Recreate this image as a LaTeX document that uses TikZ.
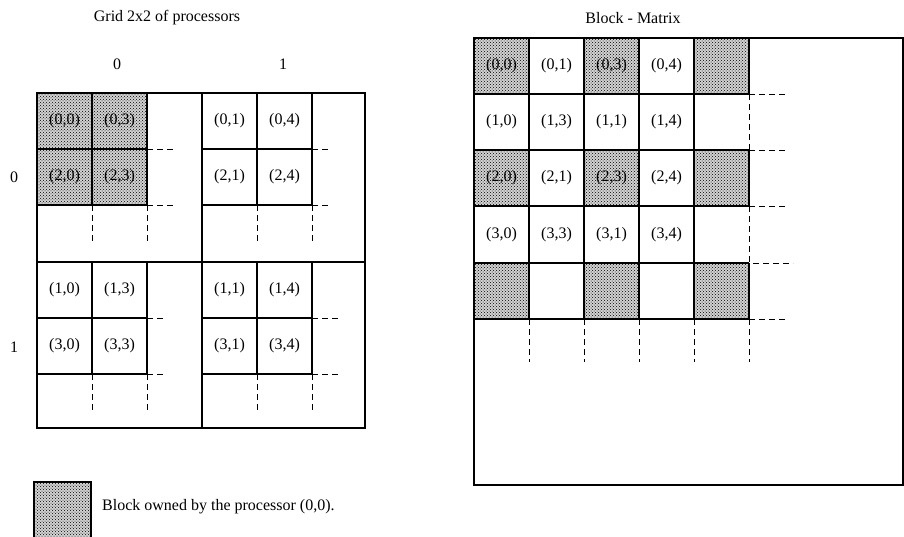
\documentclass[tikz,border=0pt]{standalone}
\usepackage{fontspec}
\setmainfont{Liberation Serif}
\usetikzlibrary{patterns}
\begin{document}
\begin{tikzpicture}[x=1pt,y=-1pt,
  shadedcell/.style={fill=gray!35, postaction={pattern=crosshatch dots, pattern color=black}},
  cellline/.style={line width=1.1pt},
  heavy/.style={line width=1.8pt},
  dashline/.style={line width=0.9pt, dash pattern=on 6pt off 4pt},
  lbl/.style={font=\fontsize{16}{19}\selectfont, inner sep=0pt},
]
\clip (0,0) rectangle (904,536);
\fill[white] (0,0) rectangle (904,536);

% ---------- titles ----------
\node[lbl] (t1) at (167,18) {Grid 2x2 of processors};
\node[lbl] (t2) at (633,18) {Block - Matrix};
\node[lbl] (c0) at (117,64) {0};
\node[lbl] (c1) at (283,64) {1};
\node[lbl] (r0) at (14,177) {0};
\node[lbl] (r1) at (14,347) {1};

% ---------- left grid ----------
\fill[shadedcell] (37,93) rectangle (147,205);
\foreach \ox/\oy/\ex in {37/93/28, 202/93/19, 37/262/17, 202/262/28} {
  \draw[cellline] (\ox+55,\oy) -- (\ox+55,\oy+112)
                  (\ox+110,\oy) -- (\ox+110,\oy+112)
                  (\ox,\oy+56) -- (\ox+110,\oy+56)
                  (\ox,\oy+112) -- (\ox+110,\oy+112);
  \draw[dashline] (\ox+55,\oy+112) -- (\ox+55,\oy+150)
                  (\ox+110,\oy+112) -- (\ox+110,\oy+150)
                  (\ox+110,\oy+56) -- (\ox+110+\ex,\oy+56)
                  (\ox+110,\oy+112) -- (\ox+110+\ex,\oy+112);
}
\draw[heavy] (37,93) rectangle (365,428);
\draw[heavy] (202,93) -- (202,428) (37,262) -- (365,262);

\node[lbl] (a00) at (64.5,121) {(0,0)};
\node[lbl] (a03) at (119.5,121) {(0,3)};
\node[lbl] (a20) at (64.5,177) {(2,0)};
\node[lbl] (a23) at (119.5,177) {(2,3)};
\node[lbl] (b01) at (229.5,121) {(0,1)};
\node[lbl] (b04) at (284.5,121) {(0,4)};
\node[lbl] (b21) at (229.5,177) {(2,1)};
\node[lbl] (b24) at (284.5,177) {(2,4)};
\node[lbl] (c10) at (64.5,290) {(1,0)};
\node[lbl] (c13) at (119.5,290) {(1,3)};
\node[lbl] (c30) at (64.5,346) {(3,0)};
\node[lbl] (c33) at (119.5,346) {(3,3)};
\node[lbl] (d11) at (229.5,290) {(1,1)};
\node[lbl] (d14) at (284.5,290) {(1,4)};
\node[lbl] (d31) at (229.5,346) {(3,1)};
\node[lbl] (d34) at (284.5,346) {(3,4)};

% ---------- right block matrix ----------
\foreach \i in {0,2,4} {
  \foreach \j in {0,2,4} {
    \fill[shadedcell] (474+55*\i,38+56.2*\j) rectangle (529+55*\i,94.2+56.2*\j);
  }
}
\foreach \xx in {529,584,639,694} {
  \draw[cellline] (\xx,38) -- (\xx,319);
}
\draw[cellline] (749,38) -- (749,94) (749,150) -- (749,206) (749,263) -- (749,319);
\draw[dashline] (749,94) -- (749,150) (749,206) -- (749,263);
\foreach \yy in {94,150,206,263} {
  \draw[cellline] (474,\yy) -- (749,\yy);
}
\draw[heavy] (474,319) -- (749,319);
\draw[dashline] (749,94) -- (787,94) (749,150) -- (787,150) (749,206) -- (787,206)
                (753,263) -- (793,263) (749,319) -- (787,319);
\foreach \xx in {529,584,639,694,749} {
  \draw[dashline] (\xx,319) -- (\xx,362);
}
\draw[heavy] (474,38) -- (903,38) -- (903,485) -- (474,485) -- cycle;

\node[lbl] (m00) at (501.5,66) {(0,0)};
\node[lbl] (m01) at (556.5,66) {(0,1)};
\node[lbl] (m03) at (611.5,66) {(0,3)};
\node[lbl] (m04) at (666.5,66) {(0,4)};
\node[lbl] (m10) at (501.5,122) {(1,0)};
\node[lbl] (m13) at (556.5,122) {(1,3)};
\node[lbl] (m11) at (611.5,122) {(1,1)};
\node[lbl] (m14) at (666.5,122) {(1,4)};
\node[lbl] (m20) at (501.5,178) {(2,0)};
\node[lbl] (m21) at (556.5,178) {(2,1)};
\node[lbl] (m23) at (611.5,178) {(2,3)};
\node[lbl] (m24) at (666.5,178) {(2,4)};
\node[lbl] (m30) at (501.5,234.5) {(3,0)};
\node[lbl] (m33) at (556.5,234.5) {(3,3)};
\node[lbl] (m31) at (611.5,234.5) {(3,1)};
\node[lbl] (m34) at (666.5,234.5) {(3,4)};

% ---------- legend ----------
\fill[shadedcell] (34,482) rectangle (91,545);
\draw[cellline] (34,482) rectangle (91,545);
\node[lbl, anchor=west] (leg) at (102,507) {Block owned by the processor (0,0).};
\end{tikzpicture}
\end{document}
